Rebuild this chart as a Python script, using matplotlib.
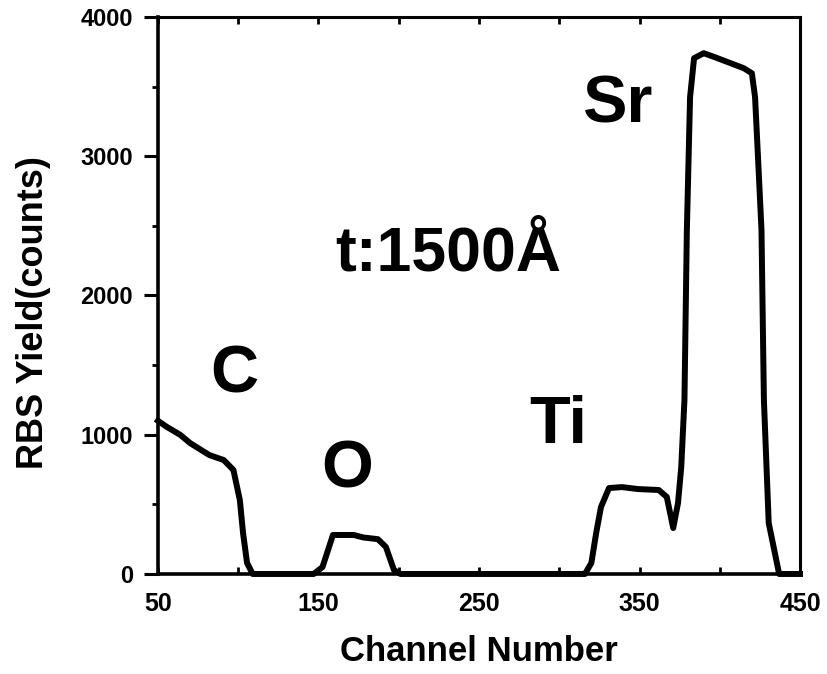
import matplotlib.pyplot as plt
import numpy as np

# RBS spectrum, values
channel = [50, 55, 64, 70, 82, 91, 97, 101, 103, 105.5, 109,
           147, 152.5, 159, 172, 178, 187, 192, 197, 201,
           316, 320, 323, 326, 331, 339, 349, 362, 367, 371, 374, 376, 378,
           379.5, 381.5, 384, 390, 397, 415, 420, 422, 424, 426, 427.5, 430.5, 437, 450]
counts = [1100, 1060, 998, 940, 854, 818, 747, 531, 294, 79, 0,
          0, 50, 280, 280, 262, 250, 194, 29, 0,
          0, 79, 294, 481, 617, 624, 610, 603, 553, 330, 510, 768, 1250,
          2470, 3424, 3704, 3740, 3711, 3632, 3596, 3424, 2950, 2470, 1250, 366, 0, 0]

x_ticks = [50, 150, 250, 350, 450]
y_ticks = [0, 1000, 2000, 3000, 4000]

peak_labels = ["C", "O", "Ti", "Sr"]
peak_x = [97.5, 168, 299.4, 336]
peak_y = [1300, 618, 941, 3239]

plt.rcParams['font.family'] = ['Liberation Sans', 'DejaVu Sans']
plt.rcParams['font.weight'] = 'bold'

fig = plt.figure(figsize=(8.28, 6.74), dpi=100)
ax = fig.add_axes([0.1908, 0.1484, 0.9662 - 0.1908, 0.9748 - 0.1484])

ax.plot(channel, counts, color='black', linewidth=4.3, solid_joinstyle='round', clip_on=False)

ax.set_xlim(50, 450)
ax.set_ylim(0, 4000)

ax.set_xticks(x_ticks)
ax.set_xticklabels([str(v) for v in x_ticks], fontsize=18, fontweight='bold')
ax.set_xticks(np.arange(100, 450, 100), minor=True)
ax.set_yticks(y_ticks)
ax.set_yticklabels([str(v) for v in y_ticks], fontsize=17, fontweight='bold')
ax.set_yticks(np.arange(500, 4000, 1000), minor=True)

ax.tick_params(axis='y', which='major', direction='out', length=10, width=2.2, pad=8)
ax.tick_params(axis='y', which='minor', direction='out', length=4, width=2)
ax.tick_params(axis='x', which='both', direction='in', length=5, width=2, pad=13, top=True)

for side in ['left', 'bottom']:
    ax.spines[side].set_linewidth(2.6)
for side in ['top', 'right']:
    ax.spines[side].set_linewidth(2.2)

ax.set_xlabel("Channel Number", fontsize=25, fontweight='bold', labelpad=14)
ax.set_ylabel("RBS Yield(counts)", fontsize=26, fontweight='bold')
ax.yaxis.set_label_coords(-0.167, 0.469)

for lab, px, py in zip(peak_labels, peak_x, peak_y):
    ax.text(px, py, lab, fontsize=48, fontweight='bold', ha='center', va='baseline')

ax.text(231, 2176, "t:1500Å", fontsize=45, fontweight='bold', ha='center', va='baseline')

fig.savefig("out.png", dpi=100)
